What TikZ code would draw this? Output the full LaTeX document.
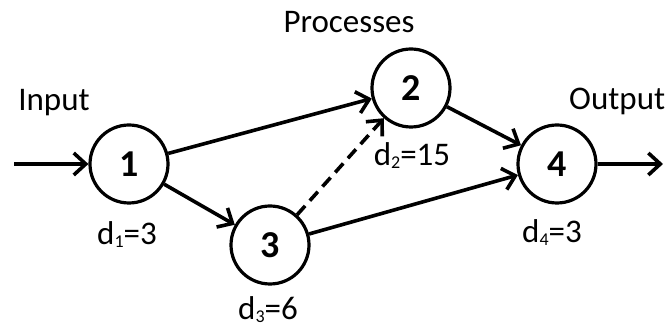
\documentclass[tikz,border=0pt]{standalone}
\usepackage{fontspec}
\setmainfont{Carlito}
\usetikzlibrary{arrows.meta}
\newcommand{\sbs}[1]{\raisebox{-0.15ex}{\fontsize{18}{18}\selectfont #1}}
\begin{document}
\begin{tikzpicture}[x=1pt,y=-1pt,
  proc/.style={circle,draw,line width=3.2pt,minimum size=78pt,inner sep=0pt,
    font=\fontsize{38}{38}\selectfont\bfseries},
  lbl/.style={inner sep=0pt,font=\fontsize{33}{33}\selectfont},
  conn/.style={line width=3.6pt,-{Straight Barb[length=12pt,width=22pt,line width=3.6pt]}},
  dconn/.style={conn,dash pattern=on 12pt off 7pt}]
\useasboundingbox (0,0) rectangle (665,328);
\node[proc] (n1) at (129,164) {1};
\node[proc] (n2) at (411,88) {2};
\node[proc] (n3) at (270,245) {3};
\node[proc] (n4) at (557,164) {4};
\coordinate (in) at (14,164);
\coordinate (out) at (663,164);
\node[lbl,anchor=base] (tin) at (54,111) {Input};
\node[lbl,anchor=base] (tproc) at (349,33) {Processes};
\node[lbl,anchor=base west] (tout) at (569,110) {Output};
\node[lbl,anchor=base] (d1) at (127,245) {d\sbs{1}=3};
\node[lbl,anchor=base] (d2) at (412,166) {d\sbs{2}=15};
\node[lbl,anchor=base] (d3) at (268,320) {d\sbs{3}=6};
\node[lbl,anchor=base] (d4) at (552,243) {d\sbs{4}=3};
\draw[conn] (in) -- (n1);
\draw[conn] (n1) -- (n2);
\draw[conn] (n1) -- (n3);
\draw[dconn] (n3) -- (n2);
\draw[conn] (n3) -- (n4);
\draw[conn] (n2) -- (n4);
\draw[conn] (n4) -- (out);
\end{tikzpicture}
\end{document}
